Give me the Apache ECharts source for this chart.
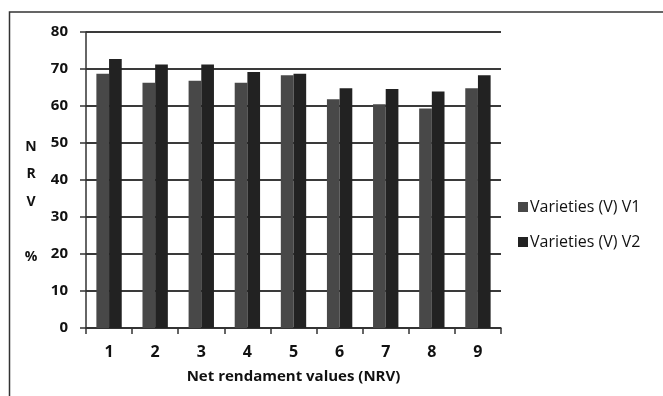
<!DOCTYPE html>
<html>
<head>
<meta charset="utf-8">
<script src="https://cdn.jsdelivr.net/npm/echarts@6/dist/echarts.min.js"></script>
<style>html,body{margin:0;padding:0;background:#fff}#c{width:663px;height:396px}</style>
</head>
<body>
<div id="c"></div>
<script>
var categories = ['1','2','3','4','5','6','7','8','9'];
var v1 = [68.7, 66.3, 66.8, 66.3, 68.3, 61.8, 60.5, 59.3, 64.8];
var v2 = [72.7, 71.2, 71.2, 69.2, 68.7, 64.8, 64.6, 63.9, 68.3];
var seriesNames = ['Varieties (V) V1', 'Varieties (V) V2'];
var yTicks = {min: 0, max: 80, interval: 10};
var yTitle = 'N\nR\nV\n\n%';

var font = '"Open Sans", Lato, sans-serif';
var chart = echarts.init(document.getElementById('c'));
chart.setOption({
  animation: false,
  backgroundColor: '#fff',
  textStyle: {fontFamily: font},
  graphic: [{
    type: 'rect', silent: true,
    shape: {x: 9.5, y: 12, width: 720, height: 420},
    style: {fill: null, stroke: '#333', lineWidth: 1.5}
  }, {
    type: 'text', silent: true, x: 31, y: 133,
    style: {text: yTitle, fill: '#111', font: 'bold 14px "Open Sans", sans-serif', lineHeight: 27.5, align: 'center', verticalAlign: 'top'}
  }],
  grid: {left: 86, top: 32, right: 162, bottom: 68, containLabel: false},
  legend: {
    orient: 'vertical', left: 513, top: 194,
    itemWidth: 10, itemHeight: 10, itemGap: 19,
    icon: 'rect',
    textStyle: {fontSize: 16, color: '#111', fontFamily: font, padding: [0, 0, 0, -3]},
    data: seriesNames
  },
  xAxis: {
    type: 'category', data: categories,
    name: 'Net rendament values (NRV)', nameLocation: 'middle', nameGap: 41,
    nameTextStyle: {fontSize: 15, fontWeight: 'bold', color: '#111', fontFamily: font},
    axisLine: {lineStyle: {color: '#333', width: 1.5}},
    axisTick: {show: true, length: 6, lineStyle: {color: '#333', width: 1.5}},
    axisLabel: {fontSize: 16, fontWeight: 'bold', color: '#111', margin: 16, fontFamily: font}
  },
  yAxis: {
    type: 'value', min: yTicks.min, max: yTicks.max, interval: yTicks.interval,
    axisLine: {show: true, lineStyle: {color: '#333', width: 1.5}},
    axisTick: {show: true, length: 6, lineStyle: {color: '#333', width: 1.5}},
    axisLabel: {fontSize: 15, fontWeight: 'bold', color: '#111', margin: 18, fontFamily: font},
    splitLine: {show: true, lineStyle: {color: '#3a3a3a', width: 1.8}}
  },
  series: [
    {name: seriesNames[0], type: 'bar', data: v1, barGap: '0%', barCategoryGap: '45%', itemStyle: {color: '#484848'}},
    {name: seriesNames[1], type: 'bar', data: v2, barGap: '0%', barCategoryGap: '45%', itemStyle: {color: '#222222'}}
  ]
});
</script>
</body>
</html>
